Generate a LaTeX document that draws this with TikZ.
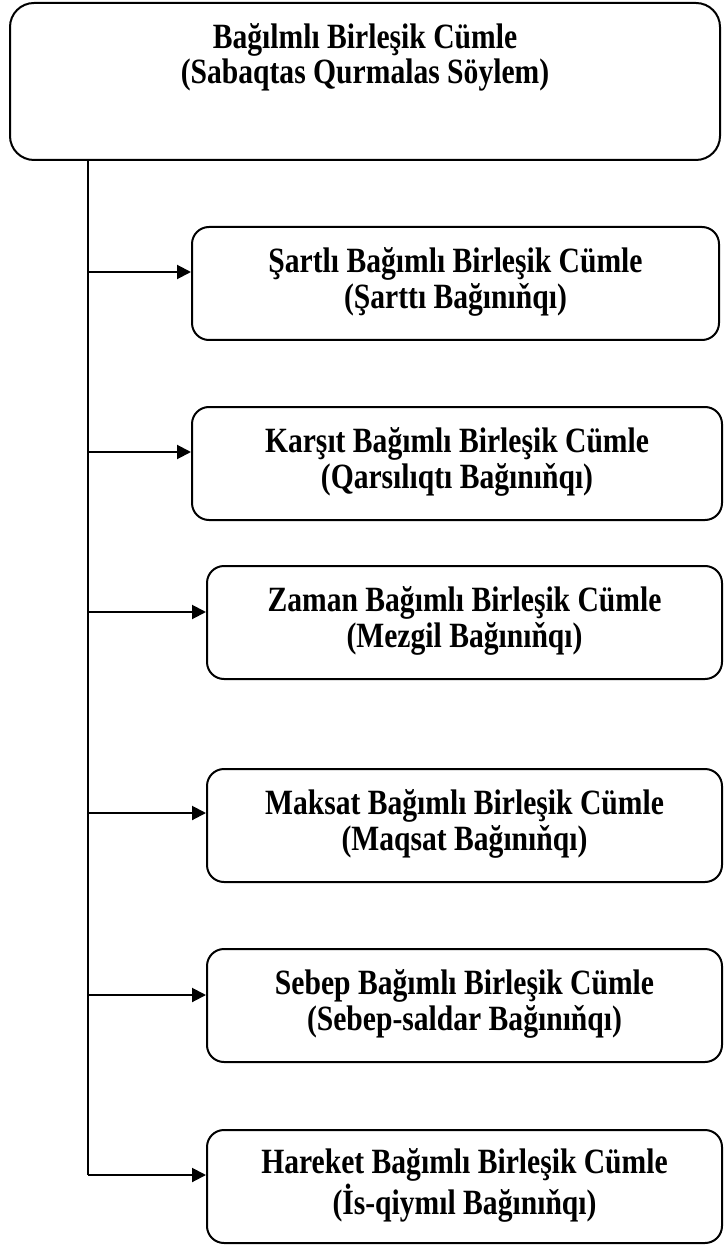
\documentclass[tikz,border=0pt]{standalone}
\usepackage{fontspec}
\usepackage{graphicx}
\setmainfont{Liberation Serif}
\usetikzlibrary{arrows.meta}
% two centred bold lines, set slightly tall
\newcommand{\twolines}[2]{\scalebox{1}[1.2]{\fontsize{14.8}{14.6}\selectfont\bfseries
  \begin{tabular}{@{}c@{}}#1\\#2\end{tabular}}}
\begin{document}
\begin{tikzpicture}[x=0.5pt,y=-0.5pt,
  box/.style={draw, line width=1pt, rounded corners=8.5pt, inner sep=0pt,
    minimum height=56.5pt},
  link/.style={line width=1pt},
  arr/.style={link, -{Triangle[length=7pt,width=7pt]}}]
\useasboundingbox (0,0) rectangle (724,1245);

% main clause box with its title near the top
\node[draw, line width=1pt, rounded corners=12pt, minimum width=355pt,
  minimum height=78.5pt] (top) at (365,81.5) {};
\node[inner sep=0pt] (toptitle) at (365,59)
  {\twolines{Bağılmlı Birleşik Cümle}{(Sabaqtas Qurmalas Söylem)}};

% subordinate clause types
\node[box, minimum width=263.5pt] (b1) at (455.5,283.5)
  {\twolines{Şartlı Bağımlı Birleşik Cümle}{(Şarttı Bağınıňqı)}};
\node[box, minimum width=265pt] (b2) at (457,463.5)
  {\twolines{Karşıt Bağımlı Birleşik Cümle}{(Qarsılıqtı Bağınıňqı)}};
\node[box, minimum width=257.5pt] (b3) at (464.5,622.5)
  {\twolines{Zaman Bağımlı Birleşik Cümle}{(Mezgil Bağınıňqı)}};
\node[box, minimum width=257.5pt] (b4) at (464.5,825.5)
  {\twolines{Maksat Bağımlı Birleşik Cümle}{(Maqsat Bağınıňqı)}};
\node[box, minimum width=257.5pt] (b5) at (464.5,1005.5)
  {\twolines{Sebep Bağımlı Birleşik Cümle}{(Sebep-saldar Bağınıňqı)}};
\node[box, minimum width=257.5pt] (b6) at (464.5,1186.5)
  {\twolines{Hareket Bağımlı Birleşik Cümle}{(İs-qiymıl Bağınıňqı)}};

% branch points on the spine
\coordinate (j1) at (88,272);
\coordinate (j2) at (88,452);
\coordinate (j3) at (88,612);
\coordinate (j4) at (88,813);
\coordinate (j5) at (88,995);
\coordinate (j6) at (88,1175);

% spine and branches
\draw[link] (top.south -| j1) -- (j6);
\draw[arr] (j1) -- (j1 -| b1.west);
\draw[arr] (j2) -- (j2 -| b2.west);
\draw[arr] (j3) -- (j3 -| b3.west);
\draw[arr] (j4) -- (j4 -| b4.west);
\draw[arr] (j5) -- (j5 -| b5.west);
\draw[arr] (j6) -- (j6 -| b6.west);
\end{tikzpicture}
\end{document}
